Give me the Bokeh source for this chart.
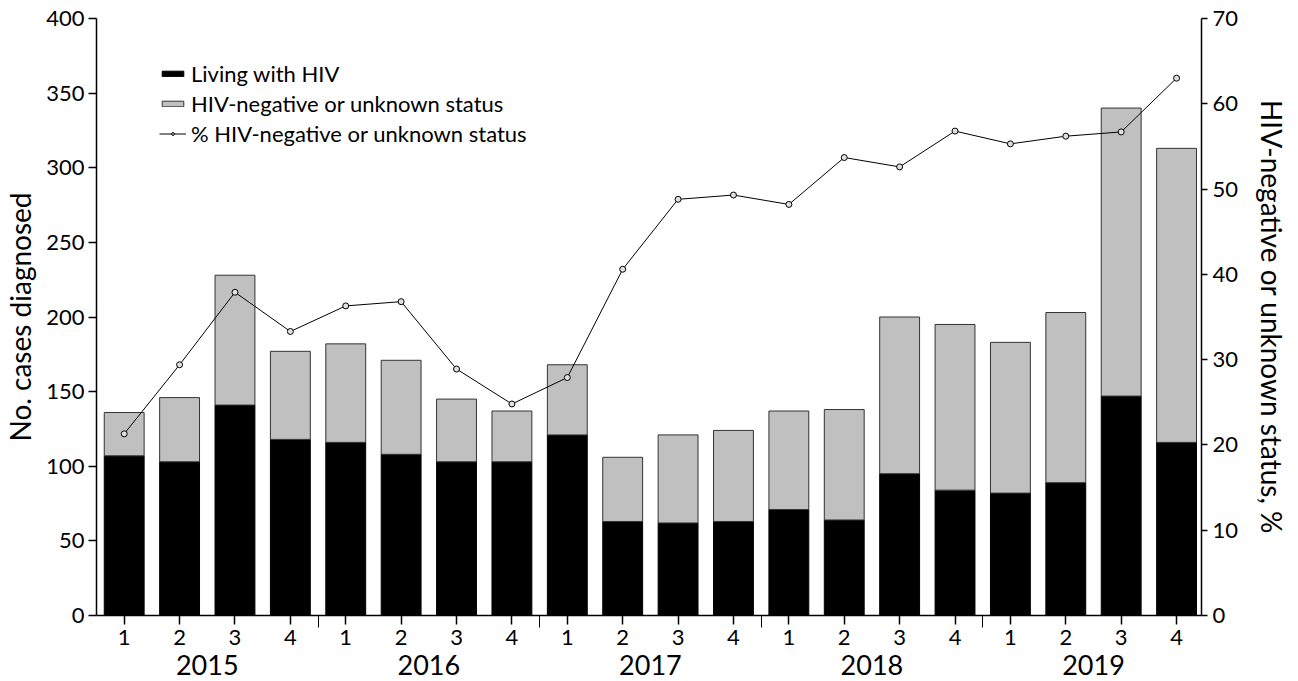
from bokeh.plotting import figure
from bokeh.models import (Range1d, LinearAxis, FixedTicker, ColumnDataSource,
                          Legend, LegendItem)
from bokeh.embed import file_html
from bokeh.resources import INLINE

quarter_labels = ["1", "2", "3", "4"] * 5
year_labels = ["2015", "2016", "2017", "2018", "2019"]
living_with_hiv = [107, 103, 141, 118, 116, 108, 103, 103, 121, 63,
                   62, 63, 71, 64, 95, 84, 82, 89, 147, 116]
hiv_negative = [29, 43, 87, 59, 66, 63, 42, 34, 47, 43,
                59, 61, 66, 74, 105, 111, 101, 114, 193, 197]
pct_negative = [21.3, 29.4, 37.9, 33.3, 36.3, 36.8, 28.9, 24.8, 27.9, 40.6,
                48.8, 49.3, 48.2, 53.7, 52.6, 56.8, 55.3, 56.2, 56.7, 63.0]

FONT = "Lato"
xs = list(range(len(living_with_hiv)))
src = ColumnDataSource(dict(x=xs, living=living_with_hiv, neg=hiv_negative, pct=pct_negative))

p = figure(width=1298, height=681, output_backend="svg", toolbar_location=None,
           x_range=Range1d(-0.5, 19.45), y_range=Range1d(0, 400),
           min_border_left=96, min_border_top=18, min_border_right=97, min_border_bottom=66)
p.extra_y_ranges = {"pct": Range1d(0, 70)}
p.xgrid.visible = False
p.ygrid.visible = False
p.outline_line_color = None
p.xaxis.visible = False
p.yaxis.visible = False

r_stack = p.vbar_stack(["living", "neg"], x="x", width=0.72, source=src,
                       fill_color=["black", "#c0c0c0"], line_color=["black", "#333333"], line_width=1)
r_line = p.line("x", "pct", source=src, y_range_name="pct", line_color="black", line_width=1)
r_pts = p.scatter("x", "pct", source=src, y_range_name="pct", size=6, marker="circle",
                  fill_color="#e0e0e0", line_color="black", line_width=1)

def style_axis(ax, size):
    ax.axis_line_color = "black"
    ax.axis_line_width = 1.5
    ax.major_tick_line_color = "black"
    ax.major_tick_line_width = 1.5
    ax.major_tick_in = 0
    ax.major_tick_out = 8
    ax.minor_tick_line_color = None
    ax.major_label_text_font = FONT
    ax.major_label_text_font_size = size
    ax.major_label_text_color = "black"
    ax.axis_label_text_font = FONT
    ax.axis_label_text_font_style = "normal"
    ax.axis_label_text_font_size = "28px"
    ax.axis_label_text_color = "black"

left = LinearAxis(ticker=FixedTicker(ticks=list(range(0, 401, 50))), axis_label="No. cases diagnosed")
style_axis(left, "22px")
left.major_label_standoff = 4
left.axis_label_standoff = 6
p.add_layout(left, "left")

right = LinearAxis(y_range_name="pct", ticker=FixedTicker(ticks=list(range(0, 71, 10))),
                   axis_label="HIV-negative or unknown status, %")
style_axis(right, "22px")
right.major_tick_out = 6
right.major_label_standoff = 5
right.axis_label_standoff = 14
p.add_layout(right, "right")

bottom = LinearAxis(ticker=FixedTicker(ticks=xs, minor_ticks=[3.5, 7.5, 11.5, 15.5]))
style_axis(bottom, "22px")
bottom.major_tick_out = 9
bottom.minor_tick_line_color = "black"
bottom.minor_tick_line_width = 1
bottom.minor_tick_in = 0
bottom.minor_tick_out = 12
bottom.major_label_standoff = 2
bottom.major_label_overrides = {i: lab for i, lab in zip(xs, quarter_labels)}
p.add_layout(bottom, "below")

year_pos = [1.5 + 4 * i for i in range(len(year_labels))]
years = LinearAxis(ticker=FixedTicker(ticks=year_pos))
style_axis(years, "27px")
years.axis_line_color = None
years.major_tick_line_color = None
years.major_tick_out = 0
years.major_label_standoff = 7
years.major_label_overrides = {v: lab for v, lab in zip(year_pos, year_labels)}
p.add_layout(years, "below")

legend = Legend(items=[
    LegendItem(label="Living with HIV", renderers=[r_stack[0]]),
    LegendItem(label="HIV-negative or unknown status", renderers=[r_stack[1]]),
    LegendItem(label="% HIV-negative or unknown status", renderers=[r_line, r_pts]),
], location=(63, 468))
legend.background_fill_alpha = 0
legend.border_line_color = None
legend.label_text_font = FONT
legend.label_text_font_size = "22px"
legend.label_text_color = "black"
legend.glyph_width = 27
legend.glyph_height = 7
legend.label_height = 22
legend.spacing = 3
legend.padding = 0
legend.margin = 0
legend.label_standoff = 5
p.add_layout(legend, "center")

open("out.html", "w").write(file_html(p, INLINE))
